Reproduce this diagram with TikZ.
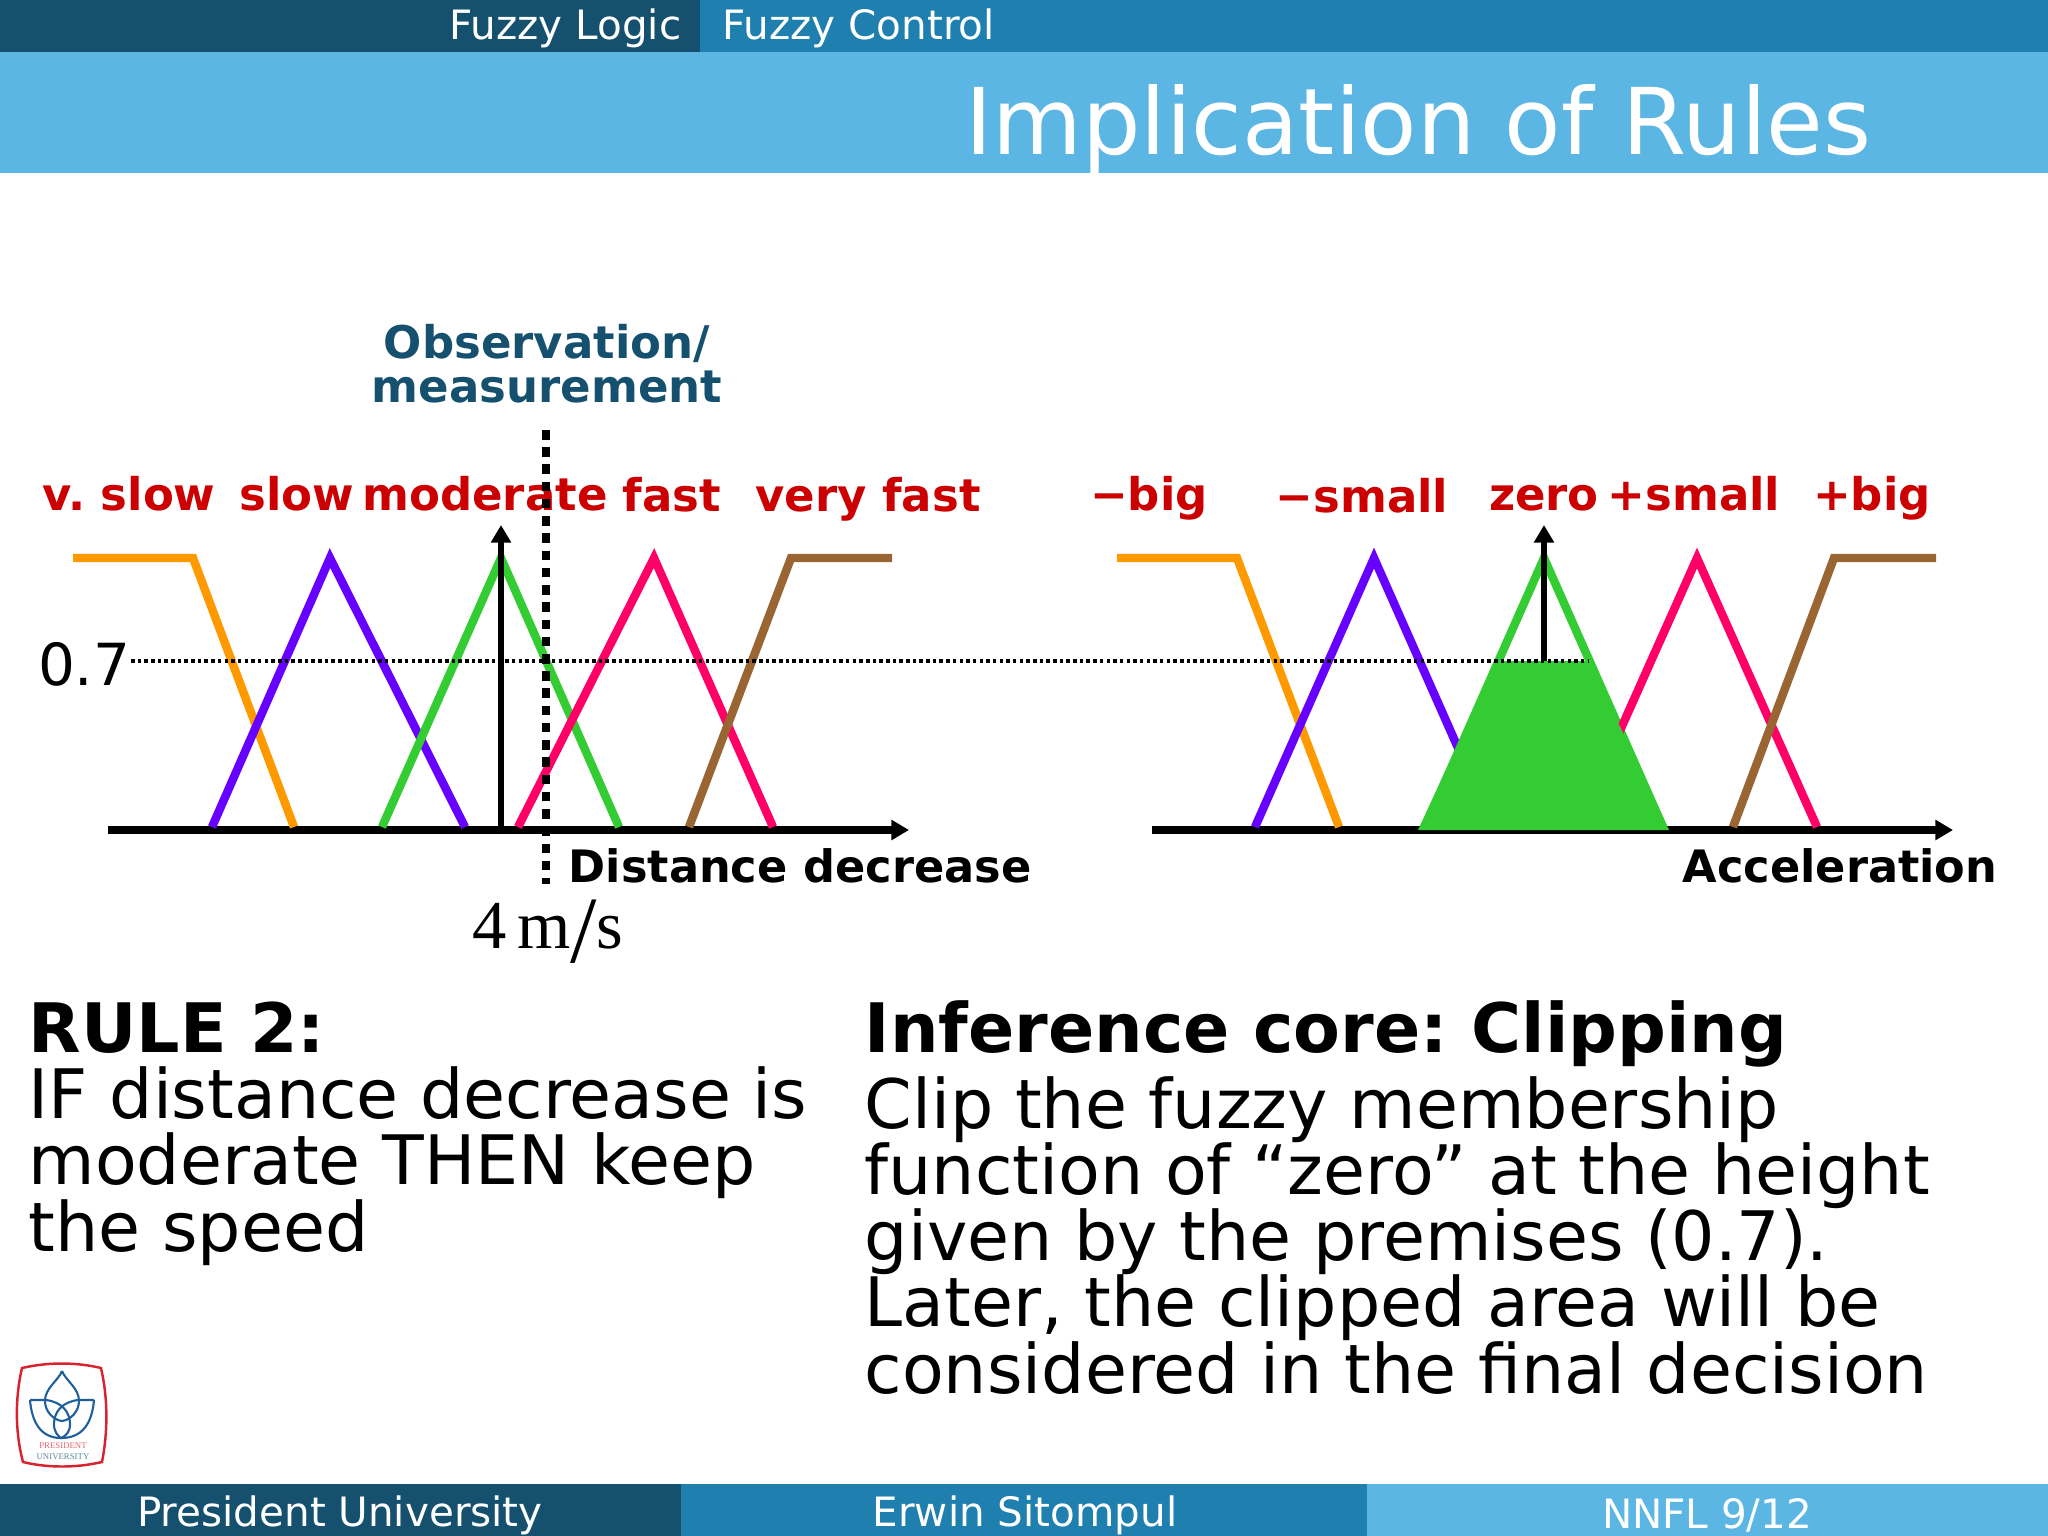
\documentclass[tikz,border=0pt]{standalone}
\usepackage{fontspec}
\setmainfont{DejaVu Sans}
\newfontfamily\timesfont{Liberation Serif}
\usetikzlibrary{positioning, arrows.meta}
\definecolor{xdark}{HTML}{15516F}
\definecolor{xmid}{HTML}{1F7FAE}
\definecolor{xlight}{HTML}{5CB6E4}
\definecolor{xorange}{HTML}{FF9900}
\definecolor{xviolet}{HTML}{6600FF}
\definecolor{xgreen}{HTML}{33CC33}
\definecolor{xpink}{HTML}{FF0066}
\definecolor{xbrown}{HTML}{996633}
\definecolor{xred}{HTML}{CC0000}
\definecolor{xlogoblue}{HTML}{1F5F9B}
\definecolor{xlogored}{HTML}{D8232F}
\frenchspacing
\lineskiplimit=-30pt
\tikzset{
	member/.style={line width=2.4pt, line join=miter},
	axisline/.style={line width=2pt, -{Triangle[length=5pt, width=5.5pt]}},
	uparrow/.style={line width=1.6pt, -{Triangle[length=5pt, width=5.5pt]}},
	level/.style={line width=1.2pt, dash pattern=on 1pt off 0.9pt},
	reading/.style={line width=2.3pt, dash pattern=on 2.7pt off 2.2pt},
	setname/.style={font=\fontsize{12.8}{15}\bfseries\selectfont, text=xred, inner sep=0pt, anchor=base},
	axisname/.style={font=\fontsize{12.7}{15}\bfseries\selectfont, inner sep=0pt},
	barlabel/.style={font=\fontsize{11.5}{13}\selectfont, text=white, inner sep=0pt},
	bodytext/.style={font=\fontsize{19.4}{18.8}\selectfont, align=left, inner sep=0pt, anchor=base west},
}
\begin{document}
\begin{tikzpicture}[x=0.01cm, y=-0.01cm]
		\useasboundingbox (0,0) rectangle (2048,1536);
		% Top bars
		\fill[xdark] (0,0) rectangle (700,52);
		\fill[xmid] (700,0) rectangle (2048,52);
		\fill[xlight] (0,52) rectangle (2048,173);
		\node[barlabel, anchor=east] (topic) at (682,28) {Fuzzy Logic};
		\node[barlabel, anchor=west] (subtopic) at (722,28) {Fuzzy Control};
		\node[font=\fontsize{26.2}{28}\selectfont, text=white, inner sep=0pt, anchor=east] (title) at (1872,129) {Implication of Rules};

		% Distance decrease
		\draw[axisline] (108,830) -- (909,830);
		\draw[member, xorange] (73,558) -- (193,558) -- (294,827);
		\draw[member, xviolet] (212,827) -- (330,558) -- (465,827);
		\draw[member, xgreen] (382,827) -- (501,558) -- (619,827);
		\draw[member, xpink] (518,827) -- (654,558) -- (773,827);
		\draw[member, xbrown] (689,827) -- (791,558) -- (892,558);
		\draw[uparrow] (501,830) -- (501,525);

		\node[setname] (vslow) at (129,510) {v. slow};
		\node[setname] (slow) at (297,510) {slow};
		\node[setname] (moderate) at (485,510) {moderate};
		\node[setname] (fast) at (672,511) {fast};
		\node[setname] (vfast) at (868,511) {very fast};
		\node[axisname, anchor=base west] (distance) at (568,882) {Distance decrease};
		\node[font=\fontsize{12.8}{12.4}\bfseries\selectfont, text=xdark, align=center, inner sep=0pt, anchor=base] (observation) at (547,402) {Observation/\\measurement};
		\node[font=\fontsize{19.5}{22}\timesfont\selectfont, inner sep=0pt, anchor=base] (speed) at (548,948) {4\kern3ptm\raisebox{-4pt}{\fontsize{27}{27}\selectfont/}s};
		\node[font=\fontsize{16.5}{18}\selectfont, inner sep=0pt, anchor=east] (height) at (131,664) {0.7};

		% Acceleration
		\draw[axisline] (1152,830) -- (1953,830);
		\draw[member, xorange] (1117,558) -- (1237,558) -- (1339,827);
		\draw[member, xviolet] (1255,827) -- (1374,558) -- (1493,827);
		\draw[member, xgreen] (1425,827) -- (1544,558) -- (1663,827);
		\draw[member, xpink] (1577,827) -- (1697,558) -- (1817,827);
		\draw[member, xbrown] (1733,827) -- (1834,558) -- (1936,558);
		\fill[xgreen] (1418,830) -- (1496,661) -- (1589,661) -- (1669,830) -- cycle;
		\draw[uparrow] (1544,661) -- (1544,525);

		\node[setname] (nbig) at (1149,510) {−big};
		\node[setname] (nsmall) at (1362,512) {−small};
		\node[setname] (zero) at (1544,510) {zero};
		\node[setname] (psmall) at (1694,510) {+small};
		\node[setname] (pbig) at (1872,510) {+big};
		\node[axisname, anchor=base east] (accel) at (1998,882) {Acceleration};

		% Observed value carried over
		\draw[level] (131,661) -- (1588,661);
		\draw[reading] (546,430) -- (546,884);

		% Text
		\node[bodytext] (rule) at (28,1251) {\bfseries RULE 2:\\IF distance decrease is\\moderate THEN keep\\the speed};
		\node[font=\fontsize{19.4}{18.8}\bfseries\selectfont, inner sep=0pt, anchor=base west] (core) at (864,1052) {Inference core: Clipping};
		\node[bodytext] (clip) at (864,1393) {Clip the fuzzy membership\\function of “zero” at the height\\given by the premises (0.7).\\Later, the clipped area will be\\considered in the final decision};

		% Logo
		\draw[xlogored, line width=0.7pt] (22,1368) .. controls (48,1362) and (76,1362) .. (101,1368) .. controls (108,1398) and (108,1432) .. (102,1462) .. controls (76,1468) and (48,1468) .. (23,1462) .. controls (15,1432) and (15,1398) .. cycle;
		\draw[xlogoblue, line width=0.6pt] (62,1371) .. controls (58,1381) and (45,1388) .. (45,1401) .. controls (45,1411) and (53,1420) .. (62,1421) .. controls (71,1420) and (79,1411) .. (79,1401) .. controls (79,1388) and (66,1381) .. (62,1371);
		\draw[xlogoblue, line width=0.6pt] (30,1400) -- (46,1400) .. controls (62,1402) and (70,1412) .. (70,1424) .. controls (70,1432) and (66,1436) .. (61,1438) .. controls (42,1438) and (32,1424) .. (30,1400);
		\draw[xlogoblue, line width=0.6pt] (94,1400) -- (78,1400) .. controls (62,1402) and (54,1412) .. (54,1424) .. controls (54,1432) and (58,1436) .. (61,1438) .. controls (82,1438) and (92,1424) .. (94,1400);
		\node[font=\fontsize{2.5}{3}\timesfont\selectfont, text=xlogored!70, inner sep=0pt] (logotop) at (63,1446) {PRESIDENT};
		\node[font=\fontsize{2.5}{3}\timesfont\selectfont, text=xdark!70, inner sep=0pt] (logobottom) at (63,1457) {UNIVERSITY};

		% Bottom bars
		\fill[xdark] (0,1484) rectangle (681,1536);
		\fill[xmid] (681,1484) rectangle (1367,1536);
		\fill[xlight] (1367,1484) rectangle (2048,1536);
		\node[barlabel] (school) at (340,1515) {President University};
		\node[barlabel] (lecturer) at (1025,1515) {Erwin Sitompul};
		\node[barlabel] (course) at (1707,1515) {NNFL 9/12};
	\end{tikzpicture}
\end{document}
